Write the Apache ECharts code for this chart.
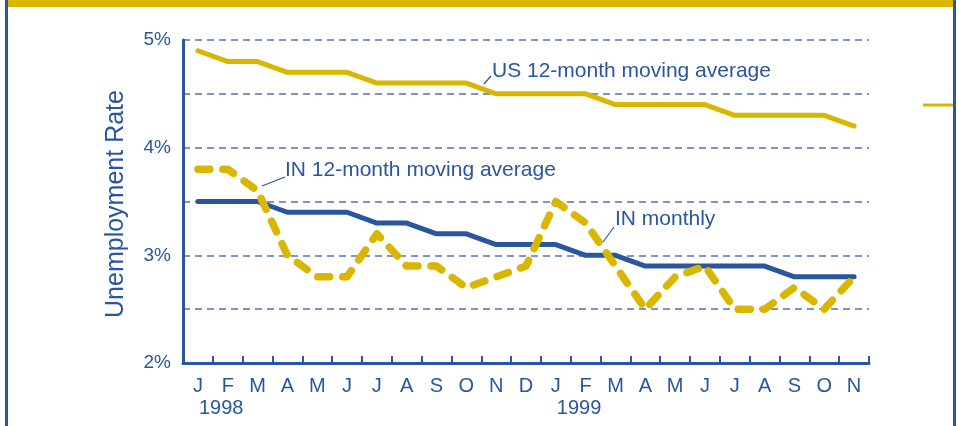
<!DOCTYPE html>
<html>
<head>
<meta charset="utf-8">
<script src="https://cdn.jsdelivr.net/npm/echarts@6/dist/echarts.min.js"></script>
<style>
html,body{margin:0;padding:0;background:#fff;}
#c{width:959px;height:426px;}
</style>
</head>
<body>
<div id="c"></div>
<script>
var months = ['J','F','M','A','M','J','J','A','S','O','N','D','J','F','M','A','M','J','J','A','S','O','N'];
var yearLabels = [{idx:0, text:'1998'}, {idx:12, text:'1999'}];
var usAvg   = [4.9,4.8,4.8,4.7,4.7,4.7,4.6,4.6,4.6,4.6,4.5,4.5,4.5,4.5,4.4,4.4,4.4,4.4,4.3,4.3,4.3,4.3,4.2];
var inAvg   = [3.5,3.5,3.5,3.4,3.4,3.4,3.3,3.3,3.2,3.2,3.1,3.1,3.1,3.0,3.0,2.9,2.9,2.9,2.9,2.9,2.8,2.8,2.8];
var inMonthly = [3.8,3.8,3.6,3.0,2.8,2.8,3.2,2.9,2.9,2.7,2.8,2.9,3.5,3.3,2.9,2.5,2.8,2.9,2.5,2.5,2.7,2.5,2.8];
var yTicks = [2,3,4,5];

var BLUE = '#2a559f';
var YELLOW = '#d9b600';
var GRID = '#4f74b3';
var FONT = '"Liberation Sans", Arial, sans-serif';

var chart = echarts.init(document.getElementById('c'), null, {renderer:'canvas'});
var option = {
  animation: false,
  backgroundColor: '#fff',
  grid: {left:183, right:90, top:40, bottom:63},
  xAxis: {
    type: 'category',
    data: months,
    boundaryGap: true,
    axisLine: {lineStyle:{color:BLUE, width:3}},
    axisTick: {show:true, inside:true, length:7, interval:0, lineStyle:{color:BLUE, width:2}},
    axisLabel: {interval:0, color:BLUE, fontSize:20, fontFamily:FONT, margin:13},
    splitLine: {show:false}
  },
  yAxis: {
    type: 'value',
    min: 2, max: 5, interval: 0.5,
    axisLine: {show:true, lineStyle:{color:BLUE, width:3}},
    axisTick: {show:false},
    axisLabel: {
      color:BLUE, fontSize:19, fontFamily:FONT, margin:12,
      formatter: function(v){ return yTicks.indexOf(v) >= 0 ? v + '%' : ''; }
    },
    splitLine: {show:true, lineStyle:{color:GRID, width:1.5, type:[7,5]}}
  },
  series: [
    {name:'US 12-month moving average', type:'line', data:usAvg, symbol:'none',
     lineStyle:{color:YELLOW, width:5, cap:'round', join:'round'}, z:3},
    {name:'IN 12-month moving average', type:'line', data:inAvg, symbol:'none',
     lineStyle:{color:BLUE, width:5, cap:'round', join:'round'}, z:4},
    {name:'IN monthly', type:'line', data:inMonthly, symbol:'none',
     lineStyle:{color:YELLOW, width:7.5, type:[12,13], cap:'round', join:'round'}, z:5}
  ]
};
chart.setOption(option);

var g = [];
// frame
g.push({type:'rect', shape:{x:8, y:0, width:945, height:7}, style:{fill:YELLOW}, z:10});
g.push({type:'rect', shape:{x:5, y:0, width:3, height:426}, style:{fill:BLUE}, z:10});
g.push({type:'rect', shape:{x:953, y:0, width:3, height:426}, style:{fill:BLUE}, z:10});
g.push({type:'line', shape:{x1:923, y1:105, x2:953, y2:105}, style:{stroke:YELLOW, lineWidth:3}, z:10});
// axis title
g.push({type:'text', x:116, y:204, rotation:Math.PI/2,
  style:{text:'Unemployment Rate', fill:BLUE, font:'25px ' + FONT, textAlign:'center', textVerticalAlign:'middle'}, z:10});
// year labels
yearLabels.forEach(function(yl){
  var p = chart.convertToPixel({xAxisIndex:0, yAxisIndex:0}, [yl.idx, 2]);
  g.push({type:'text', x:p[0]+1, y:p[1]+45,
    style:{text:yl.text, fill:BLUE, font:'20px ' + FONT, textAlign:'left', textVerticalAlign:'middle'}, z:10});
});
// annotations
function note(text, x, y, lx1, ly1, lx2, ly2){
  g.push({type:'text', x:x, y:y, style:{text:text, fill:BLUE, font:'21px ' + FONT, textAlign:'left', textVerticalAlign:'middle'}, z:10});
  g.push({type:'line', shape:{x1:lx1, y1:ly1, x2:lx2, y2:ly2}, style:{stroke:BLUE, lineWidth:1.2}, z:10});
}
note('US 12-month moving average', 492, 71, 484, 84, 491, 76);
note('IN 12-month moving average', 285, 170, 262, 186, 285, 177);
note('IN monthly', 615, 219, 603, 242, 614, 227);
chart.setOption({graphic: g});
</script>
</body>
</html>
